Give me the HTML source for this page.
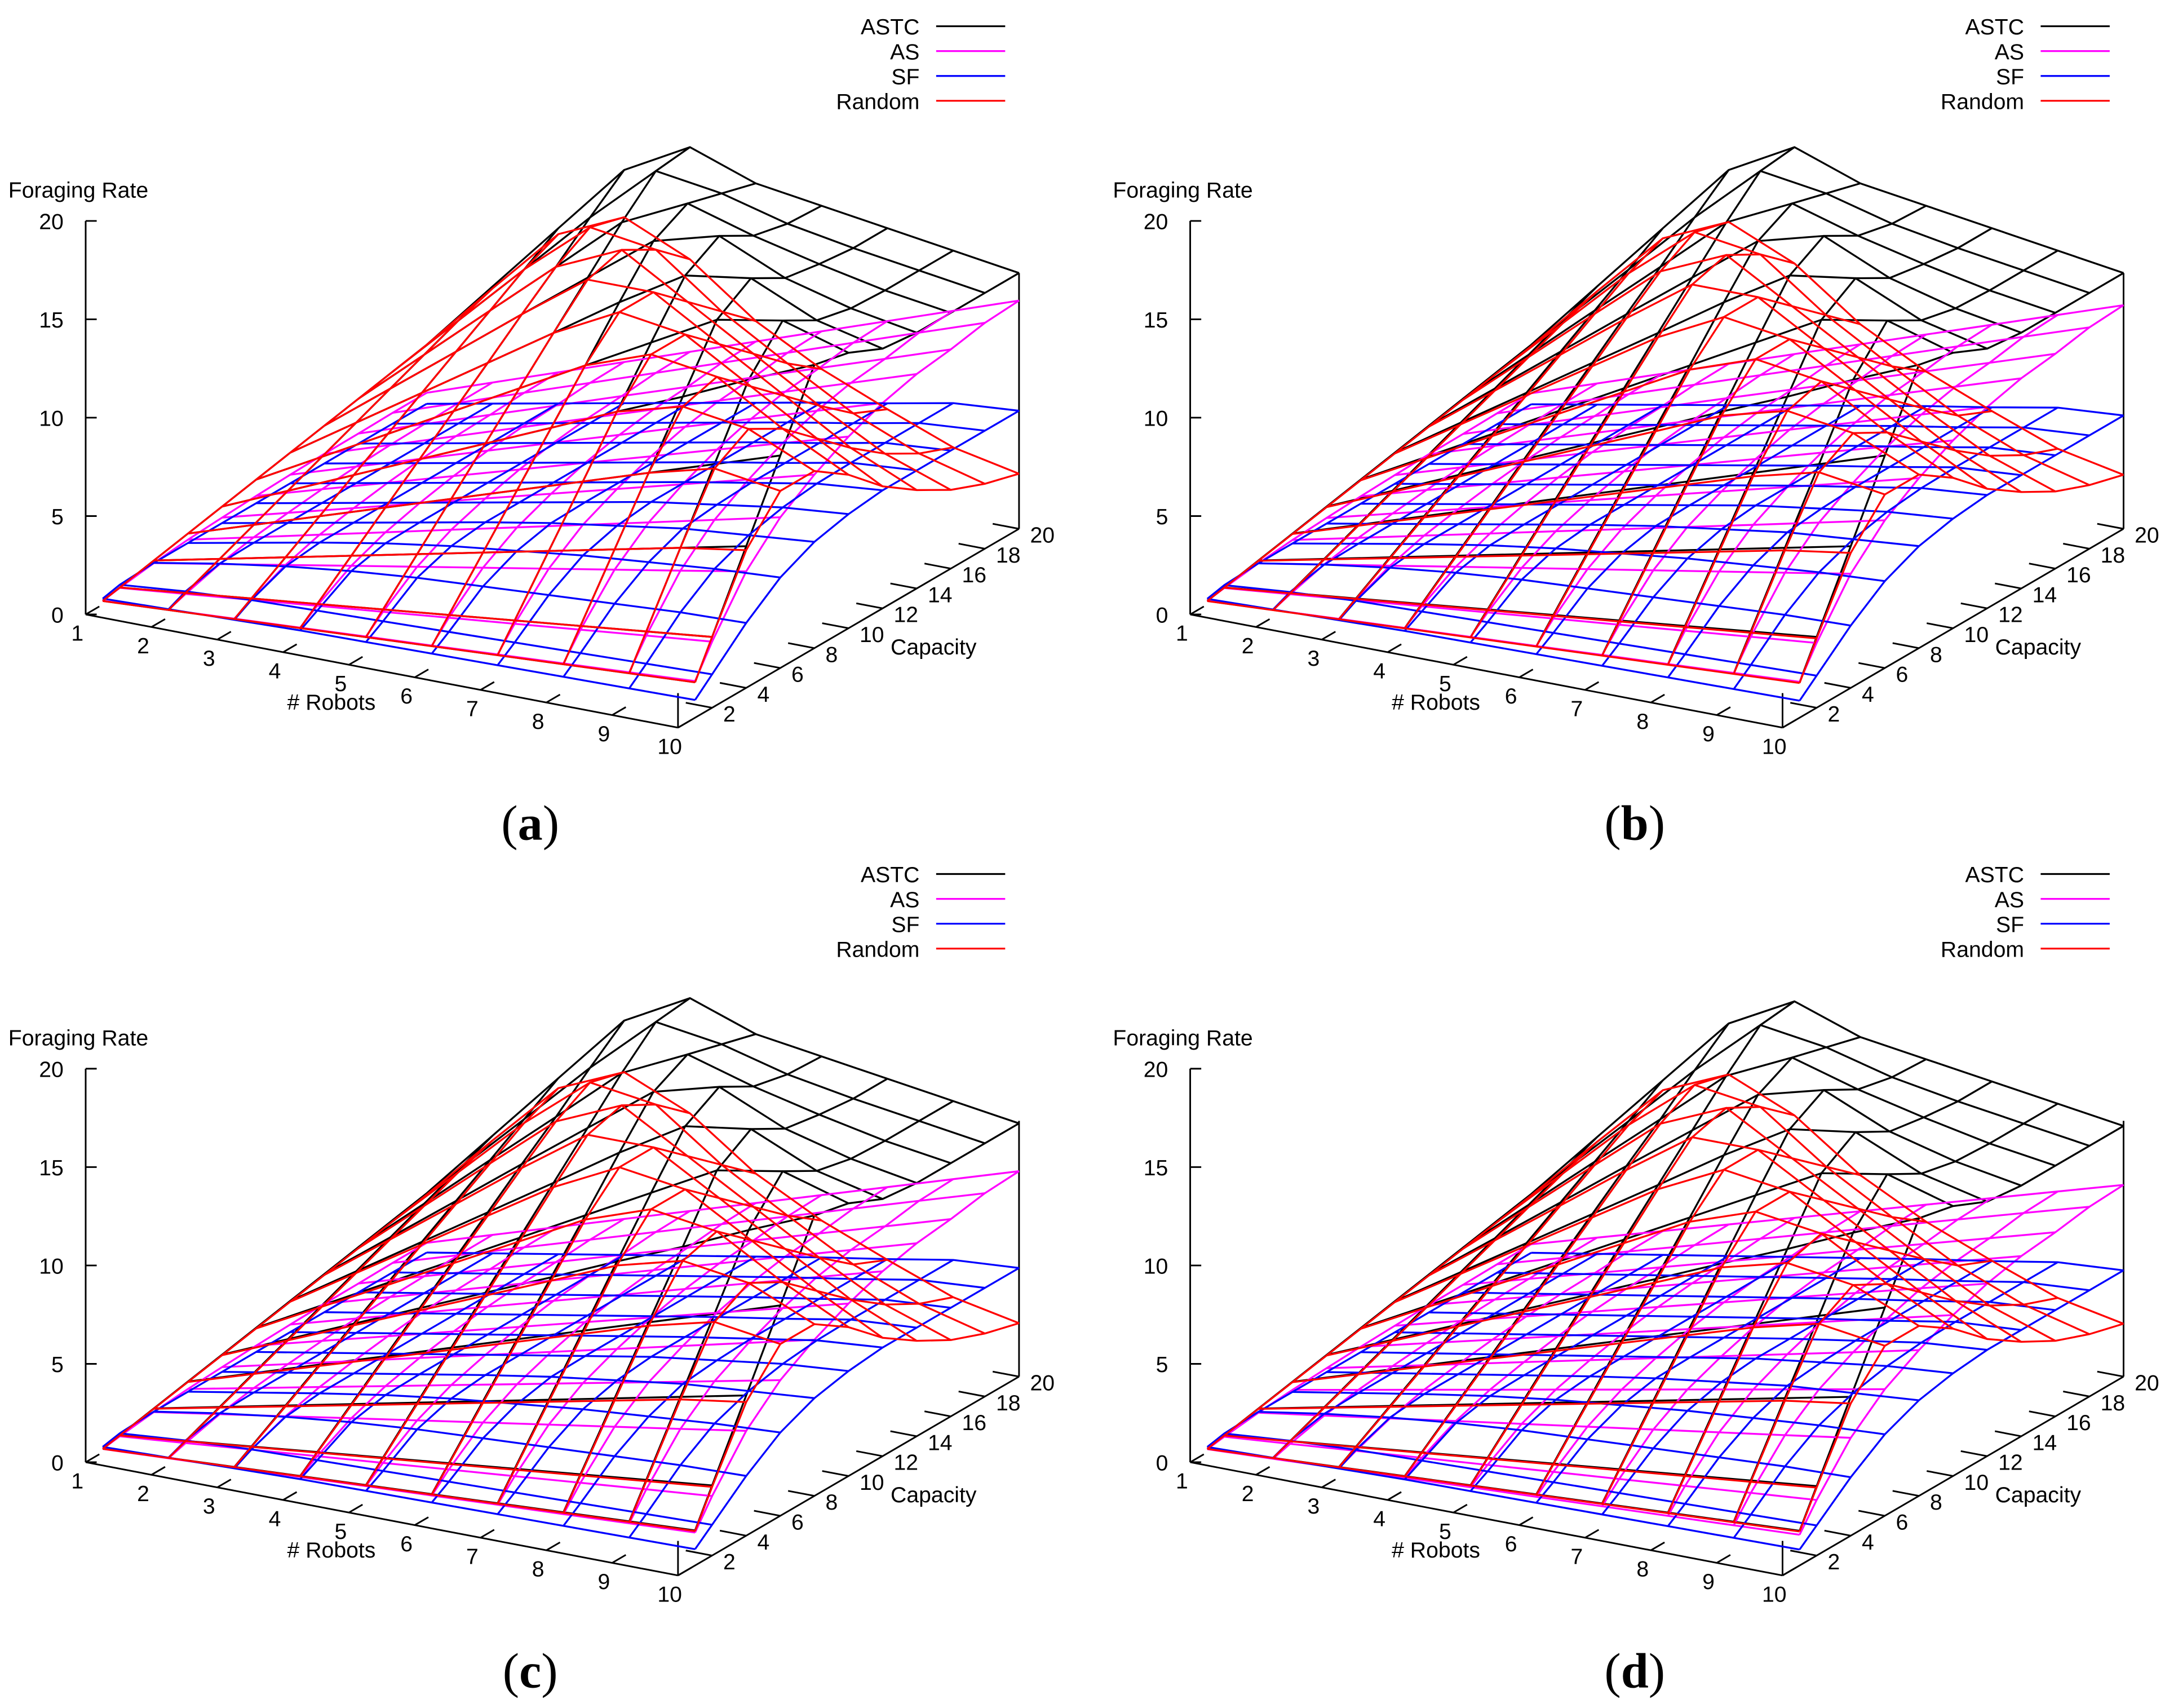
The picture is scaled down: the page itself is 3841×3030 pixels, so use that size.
<!DOCTYPE html>
<html><head><meta charset="utf-8"><style>
html,body{margin:0;padding:0;background:#fff;}
svg{display:block;}
text{font-family:"Liberation Sans",sans-serif;}
</style></head><body>
<svg id="chart" xmlns="http://www.w3.org/2000/svg" width="3841" height="3030" viewBox="0 0 1568 1237"></svg>
<script>
// ---- data ----
const robots = [1,2,3,4,5,6,7,8,9,10];
const capacities = [1,2,4,6,8,10,12,14,16,18,20];
const zTicks = [0,5,10,15,20];
const robotTicks = [1,2,3,4,5,6,7,8,9,10];
const capTicks = [2,4,6,8,10,12,14,16,18,20];
const seriesNames = ["ASTC","AS","SF","Random"];
const seriesColors = ["#000000","#ff00ff","#0000ff","#ff0000"];
const panelLabels = ["a","b","c","d"];
const astc = [
[0.18,0.36,0.72,1.08,1.44,1.8,2.16,2.52,2.88,3.24,3.6],
[0.36,0.72,1.44,2.16,2.88,3.6,4.32,5.04,5.76,6.48,7.2],
[0.54,1.08,2.16,3.24,4.32,5.4,6.48,7.56,8.64,9.72,10.8],
[0.72,1.44,2.88,4.32,5.76,7.2,8.64,10.1,11.5,13,14.4],
[0.9,1.8,3.6,5.4,7.2,9,10.8,12.6,14.4,16,16.2],
[1.08,2.16,4.32,6.48,8.64,10.8,13,15.1,16,15.5,15],
[1.26,2.52,5.04,7.56,10.1,12.6,15,16,15,14.6,14.5],
[1.44,2.88,5.76,8.64,11.5,14.4,15.5,14.5,14.2,14,14],
[1.62,3.24,6.48,9.72,13,15,14,13.6,13.5,13.5,13.5],
[1.8,3.6,7.2,10.8,14.4,14,13.2,13,13,13,13]];
const as = [
[0.19,0.34,0.59,0.77,0.88,0.97,1.04,1.09,1.11,1.15,1.16],
[0.37,0.67,1.18,1.53,1.76,1.95,2.09,2.18,2.23,2.3,2.32],
[0.56,1.01,1.77,2.3,2.64,2.92,3.13,3.27,3.34,3.45,3.48],
[0.74,1.35,2.37,3.06,3.53,3.9,4.18,4.36,4.45,4.59,4.64],
[0.93,1.68,2.96,3.83,4.41,4.87,5.22,5.45,5.57,5.74,5.8],
[1.11,2.02,3.55,4.59,5.29,5.85,6.26,6.54,6.68,6.89,6.96],
[1.3,2.35,4.14,5.36,6.17,6.82,7.31,7.63,7.8,8.04,8.12],
[1.48,2.69,4.73,6.12,7.05,7.8,8.35,8.72,8.91,9.19,9.28],
[1.67,3.03,5.32,6.89,7.93,8.77,9.4,9.81,10.02,10.34,10.44],
[1.86,3.36,5.92,7.66,8.82,9.74,10.44,10.9,11.14,11.48,11.6]];
const sf = [
[0.3,0.5,0.6,0.6,0.6,0.6,0.6,0.6,0.6,0.6,0.6],
[0.4,0.8,1.2,1.25,1.25,1.25,1.25,1.25,1.25,1.25,1.25],
[0.5,1.0,1.7,1.9,1.9,1.9,1.9,1.9,1.9,1.9,1.9],
[0.6,1.1,2.1,2.5,2.55,2.55,2.55,2.55,2.55,2.55,2.55],
[0.65,1.2,2.4,3.0,3.2,3.2,3.2,3.2,3.2,3.2,3.2],
[0.7,1.3,2.6,3.4,3.8,3.85,3.85,3.85,3.85,3.85,3.85],
[0.75,1.4,2.8,3.8,4.3,4.5,4.5,4.5,4.5,4.5,4.5],
[0.8,1.5,3.0,4.1,4.8,5.0,5.1,5.1,5.1,5.1,5.1],
[0.85,1.6,3.2,4.4,5.1,5.5,5.7,5.75,5.75,5.75,5.75],
[0.9,1.7,3.3,4.6,5.4,5.8,6.0,6.0,6.0,6.0,6.0]];
const random = [
[0.18,0.36,0.72,1.08,1.44,1.8,2.16,2.52,2.88,3.24,3.6],
[0.36,0.72,1.44,2.16,2.88,3.6,4.32,5.04,5.76,6.48,7.1],
[0.54,1.08,2.16,3.24,4.32,5.4,6.48,7.56,8.64,9.72,10.5],
[0.72,1.44,2.88,4.32,5.76,7.2,8.64,10.1,11.5,12.5,12],
[0.9,1.8,3.6,5.4,7.2,9,10.8,12.5,13,12,10.5],
[1.08,2.16,4.32,6.48,8.64,10.8,12.5,12.5,11,9.5,8],
[1.26,2.52,5.04,7.56,10.1,12,12,10.5,9,7.5,6.2],
[1.44,2.88,5.76,8.64,11,11.5,10,8.5,7,5.6,4.8],
[1.62,3.24,6.48,9.5,10.5,9.5,8,6.5,5.2,4.2,3.5],
[1.8,3.6,7.0,9,9,7.8,6.2,5,4,3.3,2.8]];
// per-panel scale factors (panels a..d)
const astcScale = [1.0,1.0,0.99,0.98];
const asScale = [1.0,0.98,0.9,0.84];
const sfScale = [1.0,0.96,0.92,0.9];
const randomScale = [1.0,0.98,0.97,0.96];

const seriesData = [astc, as, sf, random];
const seriesScale = [astcScale, asScale, sfScale, randomScale];
const panelOffsets = [[0,0],[800,0],[0,614],[800,614]];

const NS = "http://www.w3.org/2000/svg";
const svg = document.getElementById('chart');
function mk(tag, attrs, parent){
  const e = document.createElementNS(NS, tag);
  for (const k in attrs) e.setAttribute(k, attrs[k]);
  parent.appendChild(e);
  return e;
}
// axis functions
function proj(ox, oy, r, c, z){
  return [ox + 62 + (r-1)*47.67 + c*12.35, oy + 445 + (r-1)*9.11 - c*7.2 - z*14.25];
}

panelOffsets.forEach((off, p) => {
  const ox = off[0], oy = off[1];
  const g = mk('g', {}, svg);
  
  

  const ax = mk('g', {stroke:'#000','stroke-width':1.2,fill:'none'}, g);
  
  
  const o = proj(ox,oy,1,0,0), zt = proj(ox,oy,1,0,20), fr = proj(ox,oy,10,0,0), br = proj(ox,oy,10,20,0), brt = proj(ox,oy,10,20,13);
  mk('line',{x1:o[0],y1:o[1],x2:zt[0],y2:zt[1]},ax);
  mk('line',{x1:o[0],y1:o[1],x2:fr[0],y2:fr[1]},ax);
  mk('line',{x1:fr[0],y1:fr[1],x2:br[0],y2:br[1]},ax);
  mk('line',{x1:br[0],y1:br[1],x2:brt[0],y2:brt[1]},ax);
  mk('line',{x1:fr[0],y1:fr[1],x2:fr[0],y2:fr[1]-25},ax);

  zTicks.forEach(v => {
    const q = proj(ox,oy,1,0,v);
    mk('line',{x1:q[0],y1:q[1],x2:q[0]+8,y2:q[1]},ax);
    const t = mk('text',{x:q[0]-16,y:q[1]+6,'text-anchor':'end','font-size':16,fill:'#000',stroke:'none'},g);
    t.textContent = v;
    
    
  });
  robotTicks.forEach(v => {
    const q = proj(ox,oy,v,0,0), q2 = proj(ox,oy,v,0.8,0);
    mk('line',{x1:q[0],y1:q[1],x2:q2[0],y2:q2[1]},ax);
    const t = mk('text',{x:q[0]-6,y:q[1]+19,'text-anchor':'middle','font-size':16,fill:'#000',stroke:'none'},g);
    t.textContent = v;
    
    
  });
  capTicks.forEach(v => {
    const q = proj(ox,oy,10,v,0), q2 = proj(ox,oy,9.6,v,0);
    mk('line',{x1:q[0],y1:q[1],x2:q2[0],y2:q2[1]},ax);
    const t = mk('text',{x:q[0]+8,y:q[1]+10,'text-anchor':'start','font-size':16,fill:'#000',stroke:'none'},g);
    t.textContent = v;
    
    
  });
  const lbls = [["Foraging Rate",6,143,'start','z-axis-title'],["# Robots",240,514,'middle','robots-axis-title'],["Capacity",645,474,'start','capacity-axis-title']];
  lbls.forEach(L => {
    const t = mk('text',{x:ox+L[1],y:oy+L[2],'text-anchor':L[3],'font-size':16,fill:'#000'},g);
    t.textContent = L[0];
    
    
  });

  seriesData.forEach((data, s) => {
    const sc = seriesScale[s][p];
    const sg = mk('g',{stroke:seriesColors[s],'stroke-width':1.35,fill:'none'},g);
    
    
    robots.forEach((r, i) => {
      const pts = capacities.map((c, j) => proj(ox,oy,r,c,data[i][j]*sc).join(',')).join(' ');
      const pl = mk('polyline',{points:pts},sg);
      
      
    });
    capacities.forEach((c, j) => {
      const pts = robots.map((r, i) => proj(ox,oy,r,c,data[i][j]*sc).join(',')).join(' ');
      const pl = mk('polyline',{points:pts},sg);
      
      
    });
  });

  const lg = mk('g',{},g);
  
  
  seriesNames.forEach((n, s) => {
    const y = oy + 19 + s*18;
    const t = mk('text',{x:ox+666,y:y+6,'text-anchor':'end','font-size':16,fill:'#000'},lg);
    t.textContent = n;
    
    
    const l = mk('line',{x1:ox+678,y1:y,x2:ox+728,y2:y,stroke:seriesColors[s],'stroke-width':1.3},lg);
    
    
  });
  const cap = mk('text',{x:ox+384,y:oy+608,'text-anchor':'middle','font-size':36,fill:'#000'},g);
  cap.setAttribute('style','font-family:"Liberation Serif",serif');
  
  
  const t1 = mk('tspan',{},cap); t1.textContent = '(';
  const t2 = mk('tspan',{'font-weight':'bold'},cap); t2.textContent = panelLabels[p];
  const t3 = mk('tspan',{},cap); t3.textContent = ')';
});
</script>
</body></html>
